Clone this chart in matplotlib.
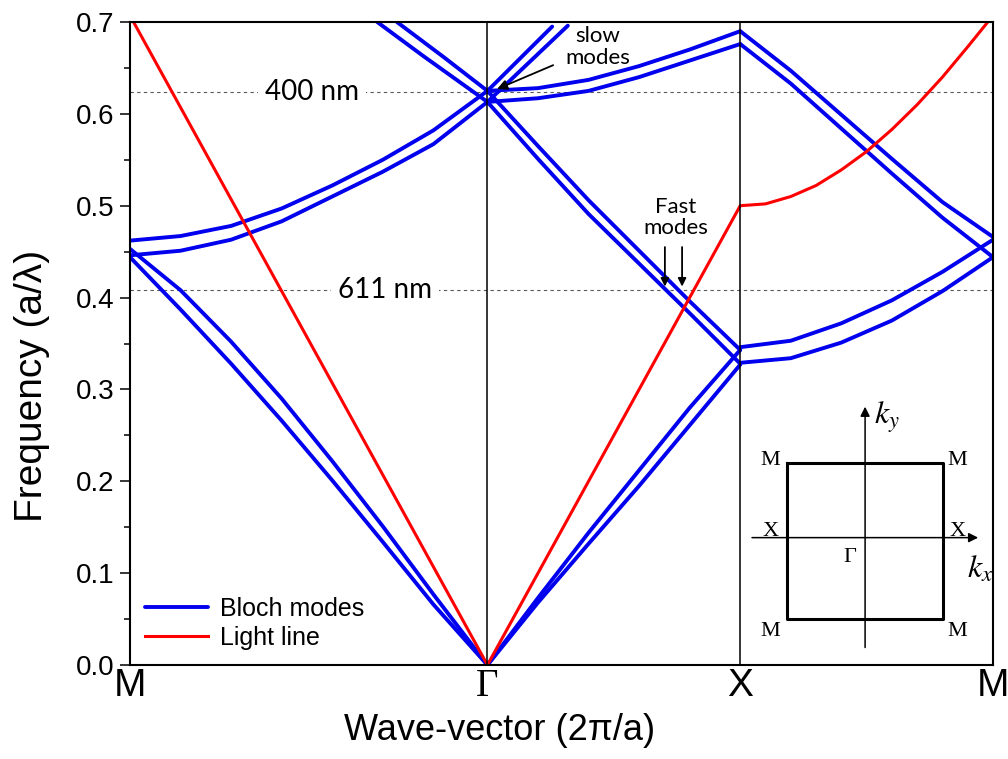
import numpy as np
import matplotlib.pyplot as plt

plt.rcParams['mathtext.fontset'] = 'stix'

# path M - Gamma - X - M, wave-vector in units of 2pi/a
sym_pos = [0.0, 0.707, 1.207, 1.707]
sym_lab = ['M', 'Γ', 'X', 'M']

# Bloch modes, M -> Gamma
k_mg = [0.0, 0.1, 0.2, 0.3, 0.4, 0.5, 0.6, 0.707]
mg_bands = [
    [0.444, 0.387, 0.328, 0.266, 0.201, 0.134, 0.066, 0.0],
    [0.453, 0.408, 0.352, 0.290, 0.222, 0.151, 0.077, 0.0],
    [0.446, 0.451, 0.463, 0.483, 0.510, 0.537, 0.567, 0.613],
    [0.462, 0.467, 0.478, 0.497, 0.522, 0.550, 0.582, 0.625],
]
# two bands coming down from above the plot into Gamma
k_top1 = [0.489, 0.580, 0.707]
f_top1 = [0.700, 0.663, 0.613]
k_top2 = [0.528, 0.620, 0.707]
f_top2 = [0.700, 0.662, 0.625]

# Gamma -> X
k_gx = [0.707, 0.807, 0.907, 1.007, 1.107, 1.207]
gx_bands = [
    [0.0, 0.073, 0.144, 0.212, 0.280, 0.343],
    [0.0, 0.068, 0.132, 0.195, 0.261, 0.327],
    [0.625, 0.565, 0.506, 0.451, 0.396, 0.343],
    [0.613, 0.551, 0.491, 0.437, 0.383, 0.328],
    [0.625, 0.628, 0.637, 0.652, 0.670, 0.690],
    [0.613, 0.617, 0.625, 0.640, 0.658, 0.676],
]
# slow modes (steep bands leaving Gamma)
k_slow1 = [0.707, 0.835]
f_slow1 = [0.625, 0.695]
k_slow2 = [0.707, 0.866]
f_slow2 = [0.613, 0.696]

# X -> M
k_xm = [1.207, 1.307, 1.407, 1.507, 1.607, 1.707]
xm_bands = [
    [0.690, 0.647, 0.599, 0.551, 0.504, 0.466],
    [0.676, 0.633, 0.584, 0.535, 0.487, 0.444],
    [0.346, 0.353, 0.372, 0.397, 0.428, 0.463],
    [0.329, 0.334, 0.351, 0.375, 0.407, 0.444],
]

# light line
k_light = [0.0, 0.707, 1.207, 1.257, 1.307, 1.357, 1.407, 1.457, 1.507,
           1.557, 1.607, 1.657, 1.707]
f_light = [0.707, 0.0, 0.500, 0.502, 0.510, 0.522, 0.539, 0.559, 0.583,
           0.610, 0.640, 0.673, 0.707]

# marked wavelengths
f_400 = 0.624
f_611 = 0.408

blue = '#0000ee'
red = '#ff0000'

fig = plt.figure(figsize=(10.08, 7.59), dpi=100)
ax = fig.add_axes([130/1008, 1-665/759, 863/1008, 643/759])

bl = dict(color=blue, lw=2.8, solid_capstyle='round', solid_joinstyle='round', zorder=2)
for b in mg_bands:
    ax.plot(k_mg, b, **bl)
for b in gx_bands:
    ax.plot(k_gx, b, **bl)
for b in xm_bands:
    ax.plot(k_xm, b, **bl)
ax.plot(k_top1, f_top1, **bl)
ax.plot(k_top2, f_top2, **bl)
ax.plot(k_slow1, f_slow1, **bl)
ax.plot(k_slow2, f_slow2, **bl, label='Bloch modes')
ax.plot(k_light, f_light, color=red, lw=2.2, zorder=2.5, label='Light line')

for p in sym_pos[1:3]:
    ax.axvline(p, color='k', lw=1.1, zorder=3)

for f in [f_400, f_611]:
    ax.axhline(f, color='0.35', lw=0.8, ls=(0, (3, 3)), zorder=1)

tfont = dict(family=['Lato', 'DejaVu Sans'])
ax.text(0.360, f_400, '400 nm', fontsize=20, ha='center', va='center', zorder=1.5,
        bbox=dict(fc='white', ec='none', pad=5), **tfont)
ax.text(0.504, f_611, '611 nm', fontsize=20, ha='center', va='center', zorder=1.5,
        bbox=dict(fc='white', ec='none', pad=5), **tfont)

ax.text(0.926, 0.673, 'slow\nmodes', fontsize=16, ha='center', va='center',
        linespacing=1.1, **tfont)
ax.annotate('', xy=(0.726, 0.627), xytext=(0.837, 0.653),
            arrowprops=dict(arrowstyle='-|>', color='k', lw=1.3, mutation_scale=15,
                            shrinkA=0, shrinkB=0), zorder=4)
ax.text(1.080, 0.487, 'Fast\nmodes', fontsize=16, ha='center', va='center',
        linespacing=1.1, **tfont)
for xa in [1.058, 1.092]:
    ax.annotate('', xy=(xa, 0.412), xytext=(xa, 0.455),
                arrowprops=dict(arrowstyle='-|>', color='k', lw=1.3, mutation_scale=12,
                                shrinkA=0, shrinkB=0), zorder=4)

ax.set_xlim(sym_pos[0], sym_pos[-1])
ax.set_ylim(0, 0.7)
ax.set_yticks(np.arange(0, 0.71, 0.1))
ax.set_yticks(np.arange(0.05, 0.7, 0.1), minor=True)
ax.set_yticklabels(['%.1f' % v for v in np.arange(0, 0.71, 0.1)],
                   fontsize=20, family='Liberation Sans')
ax.tick_params(axis='y', which='major', direction='out', length=7, width=1.1, pad=4)
ax.tick_params(axis='y', which='minor', direction='out', length=4.5, width=1.1)
ax.set_xticks(sym_pos)
ax.set_xticklabels(sym_lab, fontsize=28, family='Liberation Sans')
ax.get_xticklabels()[1].set_family('Liberation Serif')
ax.tick_params(axis='x', length=0, pad=2)
for s in ax.spines.values():
    s.set_linewidth(1.5)

ax.set_xlabel('Wave-vector (2π/a)', fontsize=26, family='Liberation Sans')
ax.xaxis.set_label_coords(370/863, -0.075)
ax.set_ylabel('Frequency (a/λ)', fontsize=28, family='Liberation Sans')
ax.yaxis.set_label_coords(-0.093, 0.434)

ax.legend(loc='lower left', frameon=False, handlelength=2.5,
          handletextpad=0.5, borderaxespad=0.2, labelspacing=0.2,
          prop={'family': 'Liberation Sans', 'size': 18})

# Brillouin zone sketch
axi = fig.add_axes([745/1008, 1-660/759, 255/1008, 265/759])
axi.set_xlim(-1.54, 1.73)
axi.set_ylim(-1.53, 1.87)
axi.axis('off')
axi.plot([-1, 1, 1, -1, -1], [1, 1, -1, -1, 1], color='k', lw=2.2)
arr = dict(arrowstyle='-|>', color='k', lw=1.1, mutation_scale=14, shrinkA=0, shrinkB=0)
axi.annotate('', xy=(0, 1.72), xytext=(0, -1.37), arrowprops=arr)
axi.annotate('', xy=(1.45, 0.04), xytext=(-1.45, 0.04), arrowprops=arr)
sfont = dict(family='Liberation Serif', fontsize=16, ha='center', va='center')
for u, v, s in [(-1.21, 1.03, 'M'), (1.18, 1.03, 'M'), (-1.21, -1.17, 'M'),
                (1.18, -1.17, 'M'), (-1.21, 0.12, 'X'), (1.18, 0.12, 'X'),
                (-0.19, -0.22, 'Γ')]:
    axi.text(u, v, s, **sfont)
axi.text(0.28, 1.58, '$k_y$', fontsize=23, ha='center', va='center')
axi.text(1.47, -0.37, '$k_x$', fontsize=23, ha='center', va='center')

fig.savefig('out.png', dpi=100)
